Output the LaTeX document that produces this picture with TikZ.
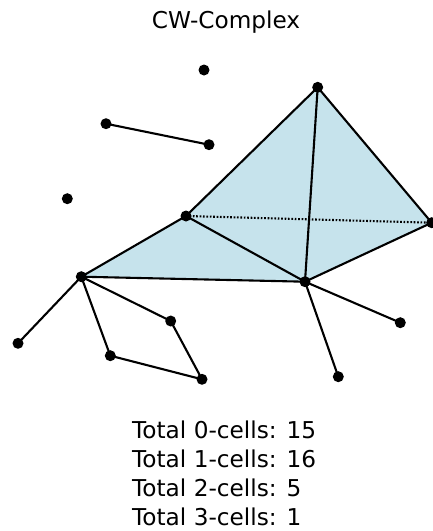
\documentclass[tikz,border=0pt]{standalone}
\usepackage{fontspec}
\setmainfont{DejaVu Sans}
\definecolor{facefill}{RGB}{198,227,236}
\begin{document}
\begin{tikzpicture}[x=1pt,y=-1pt,
  vtx/.style={circle,fill=black,inner sep=0pt,minimum size=11pt},
  edge/.style={line width=2.1pt},
  dotedge/.style={line width=2.1pt,dash pattern=on 1.7pt off 1.7pt},
  face/.style={fill=facefill,draw=none},
  lbl/.style={font=\fontsize{23.2}{27}\selectfont,inner sep=0pt}]
\useasboundingbox (0,0) rectangle (433,531);
% vertices
\coordinate (a) at (317.7,87.3);
\coordinate (b) at (186,216);
\coordinate (c) at (431.7,222.7);
\coordinate (d) at (305,281.7);
\coordinate (e) at (81.3,276.7);
\coordinate (f) at (18,343.3);
\coordinate (g) at (110.3,355.7);
\coordinate (h) at (170.7,321);
\coordinate (i) at (202,379.3);
\coordinate (j) at (400.3,322.7);
\coordinate (k) at (338.3,376.7);
\coordinate (l) at (204,70);
\coordinate (m) at (106,123.7);
\coordinate (n) at (209,144.7);
\coordinate (o) at (67.3,198.7);
% faces
\fill[face] (a) -- (b) -- (d) -- (c) -- cycle;
\fill[face] (e) -- (b) -- (d) -- cycle;
% edges
\draw[edge] (m) -- (n);
\draw[edge] (a) -- (b);
\draw[edge] (a) -- (d);
\draw[edge] (a) -- (c);
\draw[dotedge] (b) -- (c);
\draw[edge] (b) -- (d);
\draw[edge] (d) -- (c);
\draw[edge] (e) -- (b);
\draw[edge] (e) -- (d);
\draw[edge] (e) -- (f);
\draw[edge] (e) -- (g);
\draw[edge] (e) -- (h);
\draw[edge] (g) -- (i);
\draw[edge] (h) -- (i);
\draw[edge] (d) -- (j);
\draw[edge] (d) -- (k);
% vertex dots
\foreach \p in {a,b,c,d,e,f,g,h,i,j,k,l,m,n,o}
  \node[vtx] (v\p) at (\p) {};
% texts
\node[lbl] (title) at (226,22) {CW-Complex};
\node[lbl,anchor=base west] (t0) at (132,438.3) {Total 0-cells: 15};
\node[lbl,anchor=base west] (t1) at (132,467.3) {Total 1-cells: 16};
\node[lbl,anchor=base west] (t2) at (132,496.3) {Total 2-cells: 5};
\node[lbl,anchor=base west] (t3) at (132,525.3) {Total 3-cells: 1};
\end{tikzpicture}
\end{document}
